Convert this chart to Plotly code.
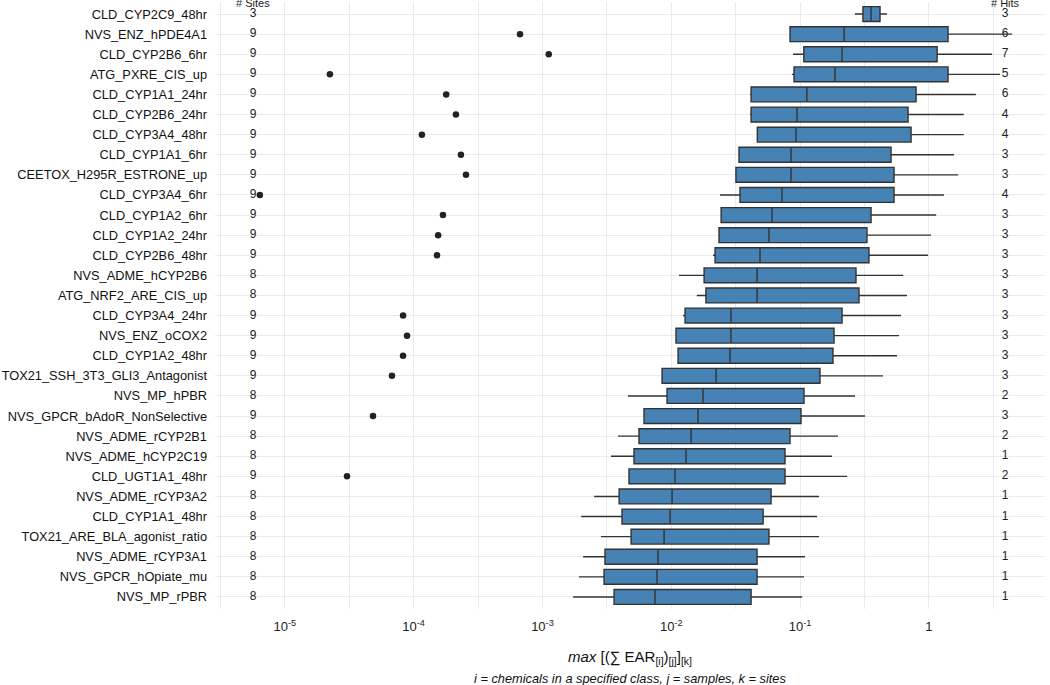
import numpy as np
import plotly.graph_objects as go

categories = [
    "CLD_CYP2C9_48hr", "NVS_ENZ_hPDE4A1", "CLD_CYP2B6_6hr", "ATG_PXRE_CIS_up",
    "CLD_CYP1A1_24hr", "CLD_CYP2B6_24hr", "CLD_CYP3A4_48hr", "CLD_CYP1A1_6hr",
    "CEETOX_H295R_ESTRONE_up", "CLD_CYP3A4_6hr", "CLD_CYP1A2_6hr", "CLD_CYP1A2_24hr",
    "CLD_CYP2B6_48hr", "NVS_ADME_hCYP2B6", "ATG_NRF2_ARE_CIS_up", "CLD_CYP3A4_24hr",
    "NVS_ENZ_oCOX2", "CLD_CYP1A2_48hr", "TOX21_SSH_3T3_GLI3_Antagonist", "NVS_MP_hPBR",
    "NVS_GPCR_bAdoR_NonSelective", "NVS_ADME_rCYP2B1", "NVS_ADME_hCYP2C19", "CLD_UGT1A1_48hr",
    "NVS_ADME_rCYP3A2", "CLD_CYP1A1_48hr", "TOX21_ARE_BLA_agonist_ratio", "NVS_ADME_rCYP3A1",
    "NVS_GPCR_hOpiate_mu", "NVS_MP_rPBR",
]

lower_whisker = [0.267, 0.0836, 0.0883, 0.0867, 0.0409, 0.0409, 0.0464, 0.0336, 0.0318, 0.0239,
                 0.0244, 0.0235, 0.0211, 0.0115, 0.0158, 0.01236, 0.01089, 0.0113, 0.00849, 0.00462,
                 0.00615, 0.00387, 0.00341, 0.0047, 0.00252, 0.002, 0.00285, 0.00207, 0.00192, 0.00173]
q1 = [0.308, 0.0836, 0.107, 0.0898, 0.0417, 0.0417, 0.0466, 0.0336, 0.0318, 0.0342,
      0.0244, 0.0235, 0.0219, 0.0180, 0.0186, 0.0128, 0.01089, 0.0113, 0.00849, 0.00928,
      0.00615, 0.00562, 0.00514, 0.0047, 0.00394, 0.00415, 0.00488, 0.00306, 0.00301, 0.0036]
median = [0.356, 0.22, 0.212, 0.187, 0.113, 0.0947, 0.0931, 0.0851, 0.0851, 0.0724,
          0.0606, 0.0574, 0.0489, 0.0464, 0.0464, 0.0291, 0.0291, 0.0286, 0.0223, 0.01765,
          0.01614, 0.01426, 0.01303, 0.01071, 0.01015, 0.0098, 0.0088, 0.0079, 0.00776, 0.00748]
q3 = [0.418, 1.41, 1.16, 1.41, 0.796, 0.690, 0.728, 0.509, 0.537, 0.537,
      0.356, 0.331, 0.343, 0.272, 0.287, 0.212, 0.1837, 0.1803, 0.1429, 0.1074,
      0.1018, 0.0836, 0.0765, 0.0765, 0.0596, 0.0517, 0.0574, 0.0464, 0.0464, 0.0417]
upper_whisker = [0.473, 4.43, 3.10, 3.57, 2.32, 1.87, 1.87, 1.57, 1.69, 1.31,
                 1.14, 1.04, 0.987, 0.631, 0.677, 0.608, 0.587, 0.566, 0.4406, 0.2673,
                 0.3197, 0.197, 0.177, 0.2317, 0.1405, 0.1355, 0.1405, 0.1094, 0.1074, 0.1037]

outlier_categories = [
    "NVS_ENZ_hPDE4A1", "CLD_CYP2B6_6hr", "ATG_PXRE_CIS_up", "CLD_CYP1A1_24hr", "CLD_CYP2B6_24hr",
    "CLD_CYP3A4_48hr", "CLD_CYP1A1_6hr", "CEETOX_H295R_ESTRONE_up", "CLD_CYP3A4_6hr",
    "CLD_CYP1A2_6hr", "CLD_CYP1A2_24hr", "CLD_CYP2B6_48hr", "CLD_CYP3A4_24hr", "NVS_ENZ_oCOX2",
    "CLD_CYP1A2_48hr", "TOX21_SSH_3T3_GLI3_Antagonist", "NVS_GPCR_bAdoR_NonSelective",
    "CLD_UGT1A1_48hr",
]
outlier_values = [6.7e-4, 1.12e-3, 2.24e-5, 1.79e-4, 2.13e-4, 1.16e-4, 2.33e-4, 2.55e-4, 6.4e-6,
                  1.69e-4, 1.55e-4, 1.52e-4, 8.28e-5, 8.89e-5, 8.28e-5, 6.79e-5, 4.84e-5, 3.04e-5]

n_sites = [3, 9, 9, 9, 9, 9, 9, 9, 9, 9, 9, 9, 9, 8, 8, 9, 9, 9, 9, 8, 9, 8, 8, 9, 8, 8, 8, 8, 8, 8]
n_hits = [3, 6, 7, 5, 6, 4, 4, 3, 3, 4, 3, 3, 3, 3, 3, 3, 3, 3, 3, 2, 3, 2, 1, 2, 1, 1, 1, 1, 1, 1]

threshold = 0.1
major_ticks = [1e-5, 1e-4, 1e-3, 1e-2, 1e-1, 1]
major_labels = ["10<sup>-5</sup>", "10<sup>-4</sup>", "10<sup>-3</sup>", "10<sup>-2</sup>",
                "10<sup>-1</sup>", "1"]
minor_ticks = [10 ** (e + 0.5) for e in range(-6, 1)]

FONT = "Liberation Sans, Arial, sans-serif"
sites_x = 10 ** -5.247
hits_x = 10 ** 0.592

top_px, bottom_px = 2, 609


def paper_y(px):
    return 1 - (px - top_px) / (bottom_px - top_px)


fig = go.Figure()
fig.add_trace(go.Box(
    y=categories, q1=q1, median=median, q3=q3,
    lowerfence=lower_whisker, upperfence=upper_whisker,
    orientation="h", boxpoints=False, width=0.74, whiskerwidth=0,
    fillcolor="#4682B4", line=dict(color="#333333", width=1.4),
    showlegend=False, hoverinfo="skip",
))
fig.add_trace(go.Scatter(
    x=outlier_values, y=outlier_categories, mode="markers",
    marker=dict(color="#222222", size=6.5), showlegend=False, hoverinfo="skip",
))
fig.add_trace(go.Scatter(
    x=[sites_x] * len(categories), y=categories, mode="text",
    text=[str(v) for v in n_sites], textfont=dict(size=12, color="#222222", family=FONT),
    textposition="middle center", cliponaxis=False, showlegend=False, hoverinfo="skip",
))
fig.add_trace(go.Scatter(
    x=[hits_x] * len(categories), y=categories, mode="text",
    text=[str(v) for v in n_hits], textfont=dict(size=12, color="#222222", family=FONT),
    textposition="middle center", cliponaxis=False, showlegend=False, hoverinfo="skip",
))

fig.add_shape(type="line", xref="x", yref="paper", x0=np.log10(threshold), x1=np.log10(threshold),
              y0=0, y1=1, line=dict(color="#333333", width=1.5, dash="dash"), layer="below")

fig.add_annotation(x=np.log10(sites_x), xref="x", y=paper_y(3.5), yref="paper", yanchor="middle",
                   text="# Sites", showarrow=False, font=dict(size=11, color="#222222", family=FONT))
fig.add_annotation(x=np.log10(hits_x), xref="x", y=paper_y(3.5), yref="paper", yanchor="middle",
                   text="# Hits", showarrow=False, font=dict(size=11, color="#222222", family=FONT))
fig.add_annotation(x=0.5, xref="paper", y=paper_y(657), yref="paper", yanchor="middle", showarrow=False,
                   text="<i>max</i> [(\u2211 EAR<sub>[i]</sub>)<sub>[j]</sub>]<sub>[k]</sub>",
                   font=dict(size=15, color="#111111", family=FONT))
fig.add_annotation(x=0.5, xref="paper", y=paper_y(678), yref="paper", yanchor="middle", showarrow=False,
                   text="<i>i = chemicals in a specified class, j = samples, k = sites</i>",
                   font=dict(size=12.8, color="#111111", family=FONT))

fig.update_layout(
    width=1050, height=685,
    margin=dict(l=215, r=5, t=top_px, b=685 - bottom_px, autoexpand=False),
    paper_bgcolor="white", plot_bgcolor="white",
    font=dict(family=FONT, size=13, color="#111111"),
    xaxis=dict(
        type="log", range=[-5.542, 0.902], automargin=False,
        tickvals=major_ticks, ticktext=major_labels,
        tickfont=dict(size=13, color="#222222"), ticklabelstandoff=8,
        showgrid=True, gridcolor="#EBEBEB", gridwidth=1,
        minor=dict(tickvals=minor_ticks, showgrid=True, gridcolor="#EBEBEB", gridwidth=1),
        zeroline=False, showline=False, ticks="",
    ),
    yaxis=dict(
        type="category", categoryorder="array", categoryarray=categories,
        range=[len(categories) - 0.4, -0.6], automargin=False,
        tickfont=dict(size=12.8, color="#111111"),
        showgrid=True, gridcolor="#EBEBEB", gridwidth=1,
        zeroline=False, showline=False, ticks="", ticklabelstandoff=7,
    ),
)

fig.write_html(
    "out.html",
    config={"displayModeBar": False},
    post_script="document.body.style.margin='0';document.body.style.overflow='hidden';",
)
